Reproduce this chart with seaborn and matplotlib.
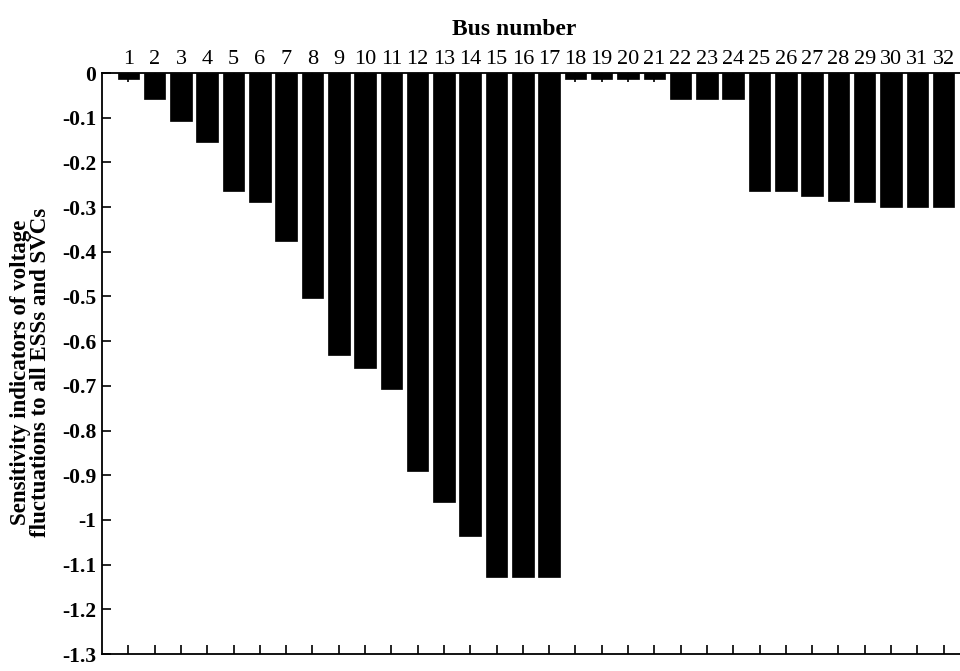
import matplotlib
matplotlib.use("Agg")
import matplotlib.pyplot as plt
import seaborn as sns
import pandas as pd

# Bus numbers and their sensitivity indicators
buses = [str(i) for i in range(1, 33)]
sensitivity = [
    -0.013, -0.058, -0.107, -0.154, -0.265, -0.288, -0.375, -0.503,
    -0.632, -0.659, -0.706, -0.890, -0.960, -1.036, -1.128, -1.128,
    -1.128, -0.013, -0.013, -0.013, -0.013, -0.058, -0.058, -0.058,
    -0.265, -0.265, -0.276, -0.286, -0.289, -0.300, -0.300, -0.300,
]
ytick_values = [round(-0.1 * i, 1) for i in range(14)]
ytick_labels = ["0", "-0.1", "-0.2", "-0.3", "-0.4", "-0.5", "-0.6", "-0.7",
                "-0.8", "-0.9", "-1", "-1.1", "-1.2", "-1.3"]

sns.set_style("white")
plt.rcParams["font.family"] = ["Liberation Serif", "DejaVu Serif"]
plt.rcParams["axes.unicode_minus"] = False
plt.rcParams["text.color"] = "black"
plt.rcParams["axes.labelcolor"] = "black"

df = pd.DataFrame({"bus": buses, "value": sensitivity})

fig = plt.figure(figsize=(9.6, 6.71), dpi=100)
ax = fig.add_axes([0.1063, 0.0253, 0.904, 0.8659])

sns.barplot(data=df, x="bus", y="value", color="black", width=0.82,
            saturation=1, edgecolor="black", linewidth=0.5, ax=ax)

ax.set_xlim(-1, 32)
ax.set_ylim(-1.3, 0)
ax.set_yticks(ytick_values)
ax.set_yticklabels(ytick_labels, fontsize=15.5, fontweight="bold")

ax.xaxis.tick_top()
ax.xaxis.set_label_position("top")
ax.set_xticks(range(len(buses)))
ax.set_xticklabels(buses, fontsize=16)
ax.set_xlabel("Bus number", fontsize=17, fontweight="bold")
ax.xaxis.set_label_coords(0.475, 1.065)
ax.set_ylabel("Sensitivity indicators of voltage\nfluctuations to all ESSs and SVCs",
              fontsize=16.5, fontweight="bold", linespacing=0.9)
ax.yaxis.set_label_coords(-0.059, 0.485)

ax.tick_params(axis="both", direction="in", length=6.5, width=1.2,
               top=True, bottom=True, left=True, right=True,
               labeltop=True, labelbottom=False, labelleft=True, labelright=False,
               pad=4, colors="black")
ax.tick_params(axis="x", pad=3)
for spine in ax.spines.values():
    spine.set_visible(True)
    spine.set_color("black")
    spine.set_linewidth(1.3)

fig.savefig("out.png", dpi=100)
